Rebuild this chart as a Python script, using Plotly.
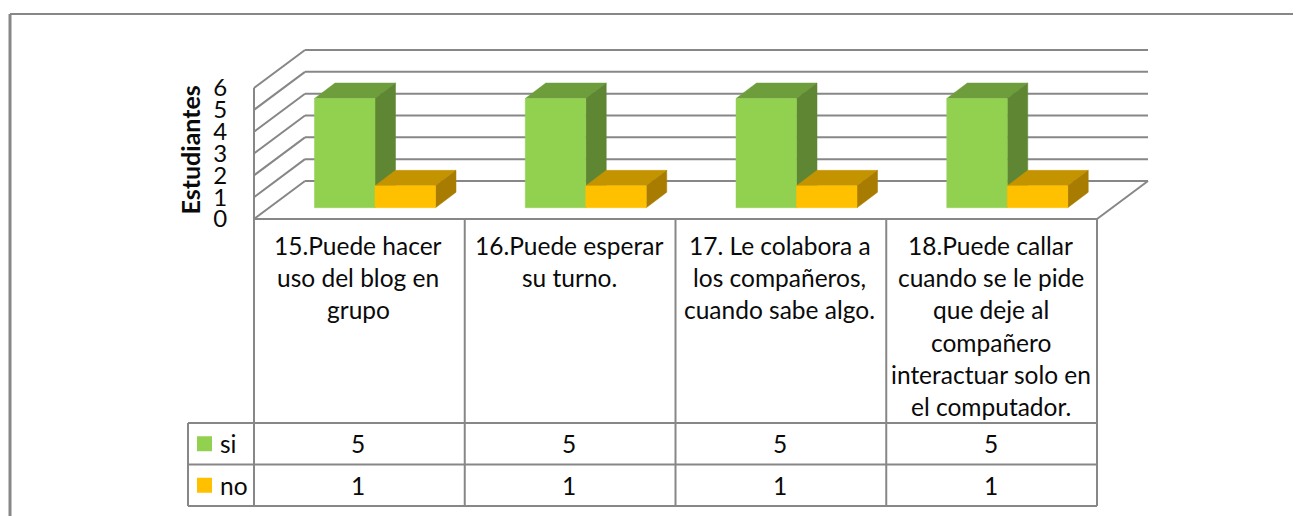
"""
Column chart with a data table underneath, drawn with a fake 3D look.
"""
import plotly.graph_objects as go

categories = [
    ["15.Puede hacer", "uso del blog en", "grupo"],
    ["16.Puede esperar", "su turno."],
    ["17. Le colabora a", "los compañeros,", "cuando sabe algo."],
    ["18.Puede callar", "cuando se le pide", "que deje al", "compañero", "interactuar solo en", "el computador."],
]
si_values = [5, 5, 5, 5]
no_values = [1, 1, 1, 1]
y_ticks = [0, 1, 2, 3, 4, 5, 6]
series_names = ["si", "no"]

WIDTH, HEIGHT = 1301, 516
PAGE_MARGIN = 8  # default body margin of the written page
LINE = "#878787"
FONT = "Lato"
TEXT = "#0a0a0a"

# plot area in page pixels, x is in category units and y in value units
PLOT_L, PLOT_R, PLOT_T, PLOT_B = 250, 1152, 46, 222
X_ZERO, CAT_W = 254, 210.75
Y_ZERO, UNIT_H = 219, 21.83

# oblique offsets, in axis units
WALL_DX, WALL_DY = 51 / CAT_W, 38 / UNIT_H
DEPTH_DX, DEPTH_DY = 20.5 / CAT_W, 15.5 / UNIT_H
BAR_BASE = 11.3 / UNIT_H
BAR_W = 60.5 / CAT_W
BAR_START = 60.5 / CAT_W


def px(x):
    return (x - PLOT_L) / (PLOT_R - PLOT_L)


def py(y):
    return (PLOT_B - y) / (PLOT_B - PLOT_T)


def face(xs, ys, color):
    return go.Scatter(
        x=xs, y=ys, mode="lines", fill="toself", fillcolor=color,
        line=dict(color=color, width=0.5), hoverinfo="skip", showlegend=False,
    )


def paper_line(x0, y0, x1, y1, width=2):
    return dict(
        type="line", xref="paper", yref="paper",
        x0=px(x0), y0=py(y0), x1=px(x1), y1=py(y1),
        line=dict(color=LINE, width=width),
    )


def label(x, y, text, size=24.5, **kw):
    return dict(
        xref="paper", yref="paper", x=px(x), y=py(y), text=text, showarrow=False,
        font=dict(family=FONT, size=size, color=TEXT),
        xanchor=kw.pop("xanchor", "center"), yanchor="middle", **kw,
    )


fig = go.Figure()

series = [
    (si_values, BAR_START, "#92D050", "#6E9E3C", "#5F8633"),
    (no_values, BAR_START + BAR_W, "#FFC000", "#C49400", "#A87C00"),
]
n_cat = len(categories)

# series by series so "no" sits in front of the "si" side
for values, start, front, top, side in series:
    for i, v in enumerate(values):
        x0 = i + start
        x1 = x0 + BAR_W
        y0 = BAR_BASE
        y1 = BAR_BASE + v
        fig.add_trace(face(
            [x0, x1, x1 + DEPTH_DX, x0 + DEPTH_DX, x0],
            [y1, y1, y1 + DEPTH_DY, y1 + DEPTH_DY, y1], top,
        ))
        fig.add_trace(face(
            [x1, x1 + DEPTH_DX, x1 + DEPTH_DX, x1, x1],
            [y0, y0 + DEPTH_DY, y1 + DEPTH_DY, y1, y0], side,
        ))
        fig.add_trace(face([x0, x1, x1, x0, x0], [y0, y0, y1, y1, y0], front))

shapes = []

# back wall grid and left wall diagonals
wall = dict(type="line", xref="x", yref="y", layer="below", line=dict(color=LINE, width=2))
for t in y_ticks:
    shapes.append(dict(wall, x0=WALL_DX, y0=t + WALL_DY, x1=n_cat + WALL_DX, y1=t + WALL_DY))
    shapes.append(dict(wall, x0=0, y0=t, x1=WALL_DX, y1=t + WALL_DY))
shapes.append(dict(wall, x0=0, y0=0, x1=0, y1=y_ticks[-1]))
shapes.append(dict(wall, x0=n_cat, y0=0, x1=n_cat + WALL_DX, y1=WALL_DY))

# outer frame, only left and top are in the picture
shapes.append(paper_line(10, 516, 10, 14, 3))
shapes.append(paper_line(10, 14, 1301, 14, 2))

# data table
TABLE_TOP, ROW_1, ROW_2, ROW_3 = 219, 423, 464.5, 506
LEFT_COL = 188
col_x = [X_ZERO + CAT_W * i for i in range(n_cat + 1)]
for x in col_x:
    shapes.append(paper_line(x, TABLE_TOP, x, ROW_3))
shapes.append(paper_line(col_x[0], TABLE_TOP, col_x[-1], TABLE_TOP))
for y in (ROW_1, ROW_2, ROW_3):
    shapes.append(paper_line(LEFT_COL, y, col_x[-1], y))
shapes.append(paper_line(LEFT_COL, ROW_1, LEFT_COL, ROW_3))

annotations = []
FIRST_LINE, LINE_STEP = 245, 32.4
for i, lines in enumerate(categories):
    cx = col_x[i] + CAT_W / 2
    for j, text in enumerate(lines):
        annotations.append(label(cx - 1, FIRST_LINE + j * LINE_STEP, text))
    annotations.append(label(cx - 1, (ROW_1 + ROW_2) / 2, str(si_values[i])))
    annotations.append(label(cx - 1, (ROW_2 + ROW_3) / 2, str(no_values[i])))

# legend keys in the first table column
for y0, y1, name, color in [
    (ROW_1, ROW_2, series_names[0], series[0][2]),
    (ROW_2, ROW_3, series_names[1], series[1][2]),
]:
    mid = (y0 + y1) / 2
    shapes.append(dict(
        type="rect", xref="paper", yref="paper", line=dict(width=0), fillcolor=color,
        x0=px(197), x1=px(212), y0=py(mid - 7.5), y1=py(mid + 7.5),
    ))
    annotations.append(label(218, mid, name, xanchor="left"))

annotations.append(dict(
    xref="paper", yref="paper", x=px(189.5), y=py(150), text="<b>Estudiantes</b>",
    textangle=-90, showarrow=False, xanchor="center", yanchor="middle",
    font=dict(family=FONT, size=25, color=TEXT),
))

fig.update_layout(
    width=WIDTH,
    height=HEIGHT - PAGE_MARGIN,
    margin=dict(l=PLOT_L - PAGE_MARGIN, r=WIDTH + PAGE_MARGIN - PLOT_R, t=PLOT_T - PAGE_MARGIN, b=HEIGHT - PLOT_B, pad=0),
    paper_bgcolor="white",
    plot_bgcolor="white",
    showlegend=False,
    shapes=shapes,
    annotations=annotations,
    font=dict(family=FONT, color=TEXT),
)
fig.update_xaxes(
    range=[(PLOT_L - X_ZERO) / CAT_W, (PLOT_R - X_ZERO) / CAT_W],
    showgrid=False, zeroline=False, showticklabels=False, ticks="",
)
fig.update_yaxes(
    range=[(Y_ZERO - PLOT_B) / UNIT_H, (Y_ZERO - PLOT_T) / UNIT_H],
    tickmode="array", tickvals=y_ticks, ticktext=[str(t) for t in y_ticks],
    tickfont=dict(family=FONT, size=24, color=TEXT),
    showgrid=False, zeroline=False, ticks="outside", ticklen=17, tickcolor="rgba(0,0,0,0)",
)

fig.write_html("out.html")
